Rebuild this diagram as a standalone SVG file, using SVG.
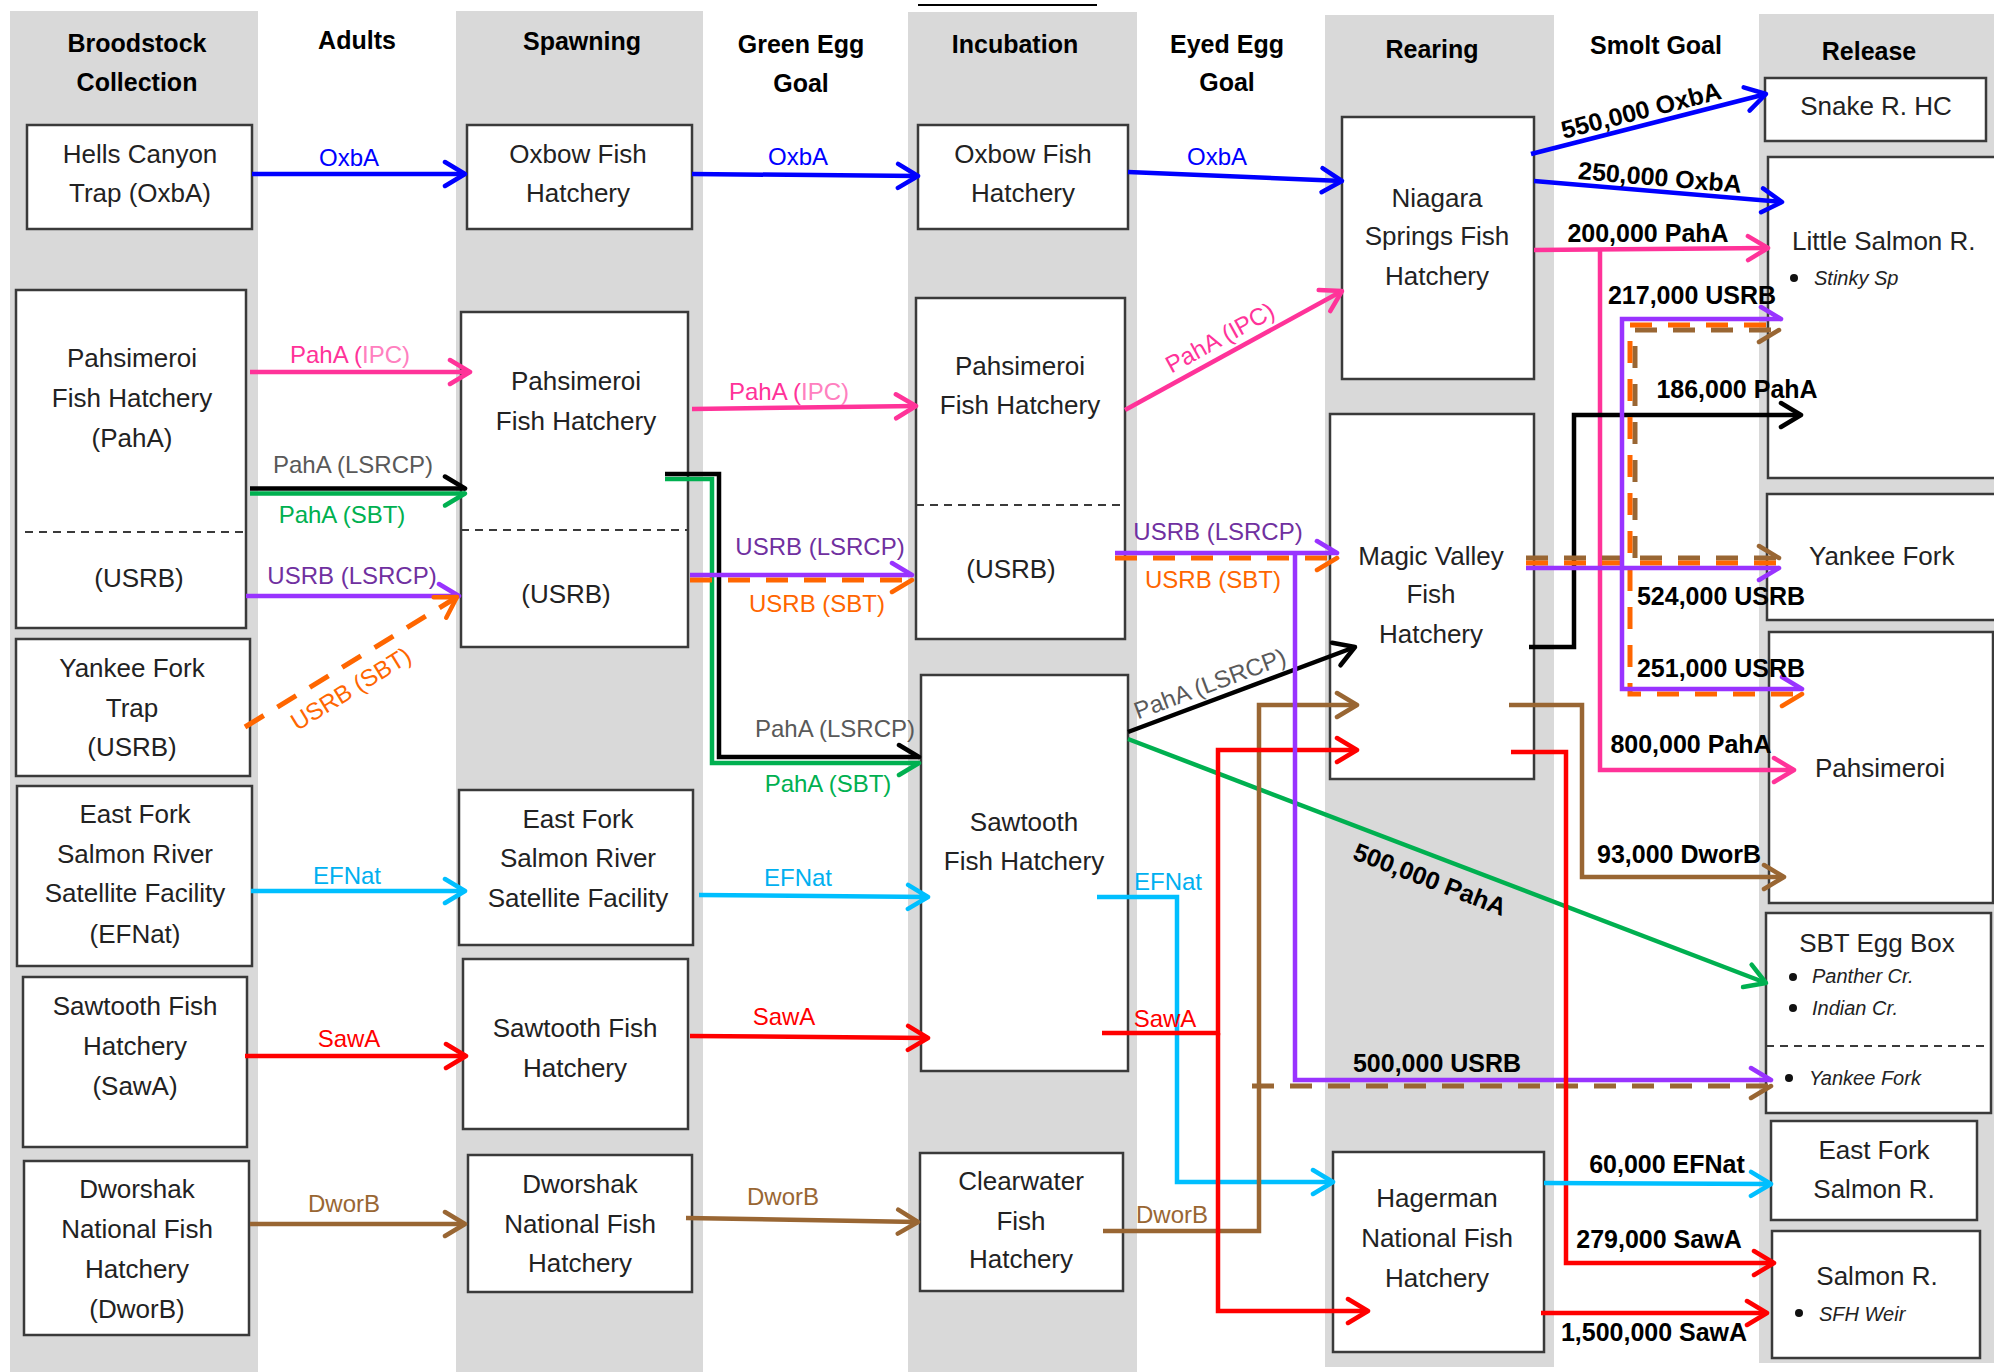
<svg xmlns="http://www.w3.org/2000/svg" width="1994" height="1372" viewBox="0 0 1994 1372">
<style>
.col{fill:#d9d9d9}
.box{fill:#fff;stroke:#3a3a3a;stroke-width:2.5}
.sep{fill:none;stroke:#3a3a3a;stroke-width:2;stroke-dasharray:8 6}
text{font-family:"Liberation Sans",Arial,sans-serif}
.hd{font-size:25px;font-weight:bold;fill:#000;text-anchor:middle}
.t{font-size:26px;fill:#222;text-anchor:middle}
.ts{font-size:26px;fill:#222}
.it{font-size:20px;font-style:italic;fill:#222}
.lb{font-size:24px;text-anchor:middle}
.nb{font-size:25px;font-weight:bold;fill:#000;text-anchor:middle}
.c{fill:none;stroke-width:4.5}
.d{stroke-dasharray:22 16;stroke-width:5}
.blue{stroke:#0000ff}.pink{stroke:#ff3399}.black{stroke:#000}.green{stroke:#00b050}
.purple{stroke:#9933ff}.orange{stroke:#ff6600}.cyan{stroke:#00bfff}.red{stroke:#ff0000}.brown{stroke:#996633}
.fblue{fill:#0000ff}.fpink{fill:#ff3399}.fgray{fill:#595959}.fgreen{fill:#00b050}.fpurple{fill:#7030a0}
.forange{fill:#ff6600}.fcyan{fill:#00b0f0}.fred{fill:#ff0000}.fbrown{fill:#996633}
.mk{fill:none;stroke-width:4.5;stroke-linecap:round;stroke-linejoin:round}
</style>
<defs>
<marker id="a-blue" markerUnits="userSpaceOnUse" viewBox="-26 -15 30 30" markerWidth="30" markerHeight="30" refX="0" refY="0" orient="auto"><path class="mk" stroke="#0000ff" d="M-20,-12 L0,0 L-20,12"/></marker>
<marker id="a-pink" markerUnits="userSpaceOnUse" viewBox="-26 -15 30 30" markerWidth="30" markerHeight="30" refX="0" refY="0" orient="auto"><path class="mk" stroke="#ff3399" d="M-20,-12 L0,0 L-20,12"/></marker>
<marker id="a-black" markerUnits="userSpaceOnUse" viewBox="-26 -15 30 30" markerWidth="30" markerHeight="30" refX="0" refY="0" orient="auto"><path class="mk" stroke="#000" d="M-20,-12 L0,0 L-20,12"/></marker>
<marker id="u-black" markerUnits="userSpaceOnUse" viewBox="-26 -15 30 30" markerWidth="30" markerHeight="30" refX="0" refY="0" orient="auto"><path class="mk" stroke="#000" d="M-20,-12 L0,0"/></marker>
<marker id="a-green" markerUnits="userSpaceOnUse" viewBox="-26 -15 30 30" markerWidth="30" markerHeight="30" refX="0" refY="0" orient="auto"><path class="mk" stroke="#00b050" d="M-20,-12 L0,0 L-20,12"/></marker>
<marker id="l-green" markerUnits="userSpaceOnUse" viewBox="-26 -15 30 30" markerWidth="30" markerHeight="30" refX="0" refY="0" orient="auto"><path class="mk" stroke="#00b050" d="M0,0 L-20,12"/></marker>
<marker id="u-purple" markerUnits="userSpaceOnUse" viewBox="-26 -15 30 30" markerWidth="30" markerHeight="30" refX="0" refY="0" orient="auto"><path class="mk" stroke="#9933ff" d="M-20,-12 L0,0"/></marker>
<marker id="l-purple" markerUnits="userSpaceOnUse" viewBox="-26 -15 30 30" markerWidth="30" markerHeight="30" refX="0" refY="0" orient="auto"><path class="mk" stroke="#9933ff" d="M0,0 L-20,12"/></marker>
<marker id="a-orange" markerUnits="userSpaceOnUse" viewBox="-26 -15 30 30" markerWidth="30" markerHeight="30" refX="0" refY="0" orient="auto"><path class="mk" stroke="#ff6600" d="M-20,-12 L0,0 L-20,12"/></marker>
<marker id="l-orange" markerUnits="userSpaceOnUse" viewBox="-26 -15 30 30" markerWidth="30" markerHeight="30" refX="0" refY="0" orient="auto"><path class="mk" stroke="#ff6600" d="M0,0 L-20,12"/></marker>
<marker id="a-brown" markerUnits="userSpaceOnUse" viewBox="-26 -15 30 30" markerWidth="30" markerHeight="30" refX="0" refY="0" orient="auto"><path class="mk" stroke="#996633" d="M-20,-12 L0,0 L-20,12"/></marker>
<marker id="u-brown" markerUnits="userSpaceOnUse" viewBox="-26 -15 30 30" markerWidth="30" markerHeight="30" refX="0" refY="0" orient="auto"><path class="mk" stroke="#996633" d="M-20,-12 L0,0"/></marker>
<marker id="l-brown" markerUnits="userSpaceOnUse" viewBox="-26 -15 30 30" markerWidth="30" markerHeight="30" refX="0" refY="0" orient="auto"><path class="mk" stroke="#996633" d="M0,0 L-20,12"/></marker>
<marker id="a-cyan" markerUnits="userSpaceOnUse" viewBox="-26 -15 30 30" markerWidth="30" markerHeight="30" refX="0" refY="0" orient="auto"><path class="mk" stroke="#00bfff" d="M-20,-12 L0,0 L-20,12"/></marker>
<marker id="a-red" markerUnits="userSpaceOnUse" viewBox="-26 -15 30 30" markerWidth="30" markerHeight="30" refX="0" refY="0" orient="auto"><path class="mk" stroke="#ff0000" d="M-20,-12 L0,0 L-20,12"/></marker>
</defs>
<rect width="1994" height="1372" fill="#fff"/>
<g id="columns">
<rect class="col" x="10" y="11" width="248" height="1361"/>
<rect class="col" x="456" y="11" width="247" height="1361"/>
<rect class="col" x="908" y="12" width="229" height="1360"/>
<rect class="col" x="1325" y="15" width="229" height="1352"/>
<rect class="col" x="1759" y="14" width="235" height="1349"/>
<line x1="918" y1="5" x2="1097" y2="5" stroke="#000" stroke-width="2"/>
</g>
<g id="headers">
<text class="hd" x="137" y="52">Broodstock</text>
<text class="hd" x="137" y="91">Collection</text>
<text class="hd" x="357" y="49">Adults</text>
<text class="hd" x="582" y="50">Spawning</text>
<text class="hd" x="801" y="53">Green Egg</text>
<text class="hd" x="801" y="92">Goal</text>
<text class="hd" x="1015" y="53">Incubation</text>
<text class="hd" x="1227" y="53">Eyed Egg</text>
<text class="hd" x="1227" y="91">Goal</text>
<text class="hd" x="1432" y="58">Rearing</text>
<text class="hd" x="1656" y="54">Smolt Goal</text>
<text class="hd" x="1869" y="60">Release</text>
</g>
<g id="bc-hells-canyon"><rect class="box" x="27" y="125" width="225" height="104"/>
<text class="t" x="140" y="163">Hells Canyon</text><text class="t" x="140" y="202">Trap (OxbA)</text></g>
<g id="bc-pahsimeroi"><rect class="box" x="16" y="290" width="230" height="338"/>
<line class="sep" x1="25" y1="532" x2="249" y2="532"/>
<text class="t" x="132" y="367">Pahsimeroi</text><text class="t" x="132" y="407">Fish Hatchery</text><text class="t" x="132" y="447">(PahA)</text>
<text class="t" x="139" y="587">(USRB)</text></g>
<g id="bc-yankee-fork"><rect class="box" x="16" y="639" width="234" height="137"/>
<text class="t" x="132" y="677">Yankee Fork</text><text class="t" x="132" y="717">Trap</text><text class="t" x="132" y="756">(USRB)</text></g>
<g id="bc-east-fork"><rect class="box" x="17" y="786" width="235" height="180"/>
<text class="t" x="135" y="823">East Fork</text><text class="t" x="135" y="863">Salmon River</text><text class="t" x="135" y="902">Satellite Facility</text><text class="t" x="135" y="943">(EFNat)</text></g>
<g id="bc-sawtooth"><rect class="box" x="23" y="977" width="224" height="170"/>
<text class="t" x="135" y="1015">Sawtooth Fish</text><text class="t" x="135" y="1055">Hatchery</text><text class="t" x="135" y="1095">(SawA)</text></g>
<g id="bc-dworshak"><rect class="box" x="24" y="1161" width="225" height="174"/>
<text class="t" x="137" y="1198">Dworshak</text><text class="t" x="137" y="1238">National Fish</text><text class="t" x="137" y="1278">Hatchery</text><text class="t" x="137" y="1318">(DworB)</text></g>
<g id="sp-oxbow"><rect class="box" x="467" y="125" width="225" height="104"/>
<text class="t" x="578" y="163">Oxbow Fish</text><text class="t" x="578" y="202">Hatchery</text></g>
<g id="sp-pahsimeroi"><rect class="box" x="461" y="312" width="227" height="335"/>
<line class="sep" x1="461" y1="530" x2="688" y2="530"/>
<text class="t" x="576" y="390">Pahsimeroi</text><text class="t" x="576" y="430">Fish Hatchery</text>
<text class="t" x="566" y="603">(USRB)</text></g>
<g id="sp-east-fork"><rect class="box" x="459" y="790" width="234" height="155"/>
<text class="t" x="578" y="828">East Fork</text><text class="t" x="578" y="867">Salmon River</text><text class="t" x="578" y="907">Satellite Facility</text></g>
<g id="sp-sawtooth"><rect class="box" x="463" y="959" width="225" height="170"/>
<text class="t" x="575" y="1037">Sawtooth Fish</text><text class="t" x="575" y="1077">Hatchery</text></g>
<g id="sp-dworshak"><rect class="box" x="468" y="1155" width="224" height="137"/>
<text class="t" x="580" y="1193">Dworshak</text><text class="t" x="580" y="1233">National Fish</text><text class="t" x="580" y="1272">Hatchery</text></g>
<g id="in-oxbow"><rect class="box" x="918" y="125" width="210" height="104"/>
<text class="t" x="1023" y="163">Oxbow Fish</text><text class="t" x="1023" y="202">Hatchery</text></g>
<g id="in-pahsimeroi"><rect class="box" x="916" y="298" width="209" height="341"/>
<line class="sep" x1="916" y1="505" x2="1125" y2="505"/>
<text class="t" x="1020" y="375">Pahsimeroi</text><text class="t" x="1020" y="414">Fish Hatchery</text>
<text class="t" x="1011" y="578">(USRB)</text></g>
<g id="in-sawtooth"><rect class="box" x="921" y="675" width="207" height="396"/>
<text class="t" x="1024" y="831">Sawtooth</text><text class="t" x="1024" y="870">Fish Hatchery</text></g>
<g id="in-clearwater"><rect class="box" x="920" y="1153" width="203" height="138"/>
<text class="t" x="1021" y="1190">Clearwater</text><text class="t" x="1021" y="1230">Fish</text><text class="t" x="1021" y="1268">Hatchery</text></g>
<g id="re-niagara"><rect class="box" x="1342" y="117" width="192" height="262"/>
<text class="t" x="1437" y="207">Niagara</text><text class="t" x="1437" y="245">Springs Fish</text><text class="t" x="1437" y="285">Hatchery</text></g>
<g id="re-magic-valley"><rect class="box" x="1330" y="414" width="204" height="365"/>
<text class="t" x="1431" y="565">Magic Valley</text><text class="t" x="1431" y="603">Fish</text><text class="t" x="1431" y="643">Hatchery</text></g>
<g id="re-hagerman"><rect class="box" x="1333" y="1152" width="211" height="200"/>
<text class="t" x="1437" y="1207">Hagerman</text><text class="t" x="1437" y="1247">National Fish</text><text class="t" x="1437" y="1287">Hatchery</text></g>
<g id="rl-snake"><rect class="box" x="1765" y="78" width="221" height="63"/>
<text class="t" x="1876" y="115">Snake R. HC</text></g>
<g id="rl-little-salmon"><rect class="box" x="1768" y="157" width="240" height="321"/>
<text class="ts" x="1792" y="250">Little Salmon R.</text>
<circle cx="1794" cy="278" r="4" fill="#111"/><text class="it" x="1814" y="285">Stinky Sp</text></g>
<g id="rl-yankee-fork"><rect class="box" x="1767" y="494" width="240" height="126"/>
<text class="ts" x="1809" y="565">Yankee Fork</text></g>
<g id="rl-pahsimeroi"><rect class="box" x="1769" y="632" width="224" height="271"/>
<text class="ts" x="1815" y="777">Pahsimeroi</text></g>
<g id="rl-sbt-egg-box"><rect class="box" x="1766" y="913" width="225" height="200"/>
<line class="sep" x1="1766" y1="1046" x2="1991" y2="1046"/>
<text class="t" x="1877" y="952">SBT Egg Box</text>
<circle cx="1793" cy="977" r="4" fill="#111"/><text class="it" x="1812" y="983">Panther Cr.</text>
<circle cx="1793" cy="1008" r="4" fill="#111"/><text class="it" x="1812" y="1015">Indian Cr.</text>
<circle cx="1789" cy="1078" r="4" fill="#111"/><text class="it" x="1809" y="1085">Yankee Fork</text></g>
<g id="rl-east-fork"><rect class="box" x="1771" y="1121" width="206" height="99"/>
<text class="t" x="1874" y="1159">East Fork</text><text class="t" x="1874" y="1198">Salmon R.</text></g>
<g id="rl-salmon"><rect class="box" x="1772" y="1231" width="208" height="127"/>
<text class="t" x="1877" y="1285">Salmon R.</text>
<circle cx="1799" cy="1313" r="4" fill="#111"/><text class="it" x="1819" y="1321">SFH Weir</text></g>
<g id="connectors">
<path class="c blue" d="M252,174 H465" marker-end="url(#a-blue)"/>
<path class="c pink" d="M250,372 H470" marker-end="url(#a-pink)"/>
<path class="c green" d="M250,493.5 H465" marker-end="url(#l-green)"/>
<path class="c black" d="M250,488.5 H465" marker-end="url(#u-black)"/>
<path class="c purple" d="M246,596 H459" marker-end="url(#u-purple)"/>
<path class="c d orange" d="M245,727 L457,597" marker-end="url(#a-orange)"/>
<path class="c cyan" d="M251,891 H465" marker-end="url(#a-cyan)"/>
<path class="c red" d="M245,1056 H466" marker-end="url(#a-red)"/>
<path class="c brown" d="M250,1224 H465" marker-end="url(#a-brown)"/>
<path class="c blue" d="M692,174 L918,176" marker-end="url(#a-blue)"/>
<path class="c pink" d="M692,409 L916,406" marker-end="url(#a-pink)"/>
<path class="c green" d="M665,479 H712 V763 H919" marker-end="url(#l-green)"/>
<path class="c black" d="M665,474 H719 V757 H919" marker-end="url(#u-black)"/>
<path class="c d orange" d="M690,580 H912" marker-end="url(#l-orange)"/>
<path class="c purple" d="M690,575 H912" marker-end="url(#u-purple)"/>
<path class="c cyan" d="M699,895 L928,897" marker-end="url(#a-cyan)"/>
<path class="c red" d="M690,1036 L928,1038" marker-end="url(#a-red)"/>
<path class="c brown" d="M686,1218 L918,1222" marker-end="url(#a-brown)"/>
<path class="c blue" d="M1128,172 L1342,181" marker-end="url(#a-blue)"/>
<path class="c pink" d="M1125,410 L1342,291" marker-end="url(#a-pink)"/>
<path class="c d orange" d="M1115,558 H1337" marker-end="url(#l-orange)"/>
<path class="c purple" d="M1115,553 H1337" marker-end="url(#u-purple)"/>
<path class="c black" d="M1128,732 L1355,647" marker-end="url(#a-black)"/>
<path class="c green" d="M1128,739 L1766,983" marker-end="url(#a-green)"/>
<path class="c cyan" d="M1097,897 H1177 V1182 H1333" marker-end="url(#a-cyan)"/>
<path class="c brown" d="M1103,1231 H1259 V705 H1357" marker-end="url(#a-brown)"/>
<path class="c red" d="M1102,1033 H1218 V750 H1357" marker-end="url(#a-red)"/>
<path class="c red" d="M1218,1033 V1311 H1368" marker-end="url(#a-red)"/>
<path class="c d brown" d="M1252,1086 H1771" marker-end="url(#l-brown)"/>
<path class="c purple" d="M1295,553 V1080 H1771" marker-end="url(#u-purple)"/>
<path class="c blue" d="M1531,154 L1766,94" marker-end="url(#a-blue)"/>
<path class="c blue" d="M1534,181 L1782,202" marker-end="url(#a-blue)"/>
<path class="c pink" d="M1534,250 L1768,248" marker-end="url(#a-pink)"/>
<path class="c pink" d="M1600,250 V770 H1794" marker-end="url(#a-pink)"/>
<path class="c black" d="M1529,647 H1574 V415 H1801" marker-end="url(#a-black)"/>
<path class="c brown" d="M1509,705 H1582 V877 H1784" marker-end="url(#a-brown)"/>
<path class="c red" d="M1511,752 H1566 V1263 H1774" marker-end="url(#a-red)"/>
<path class="c cyan" d="M1544,1183 L1771,1184" marker-end="url(#a-cyan)"/>
<path class="c red" d="M1541,1313 H1767" marker-end="url(#a-red)"/>
<path class="c d brown" d="M1526,558 H1779" marker-end="url(#u-brown)"/>
<path class="c d brown" d="M1635,558 V330 H1779" marker-end="url(#l-brown)"/>
<path class="c d orange" d="M1526,563 H1779"/>
<path class="c d orange" d="M1766,325 H1630 V694 H1802" marker-end="url(#l-orange)"/>
<path class="c purple" d="M1526,568 H1779" marker-end="url(#l-purple)"/>
<path class="c purple" d="M1622,568 V319 H1781" marker-end="url(#u-purple)"/>
<path class="c purple" d="M1622,568 V689 H1802" marker-end="url(#u-purple)"/>
</g>
<g id="labels">
<text class="lb fblue" x="349" y="166">OxbA</text>
<text class="lb fpink" x="350" y="363">PahA (<tspan fill="#ff80bf">IPC)</tspan></text>
<text class="lb fgray" x="353" y="473">PahA (LSRCP)</text>
<text class="lb fgreen" x="342" y="523">PahA (SBT)</text>
<text class="lb fpurple" x="352" y="584">USRB (LSRCP)</text>
<text class="lb forange" x="0" y="8" transform="translate(351,689) rotate(-31.5)">USRB (SBT)</text>
<text class="lb fcyan" x="347" y="884">EFNat</text>
<text class="lb fred" x="349" y="1047">SawA</text>
<text class="lb fbrown" x="344" y="1212">DworB</text>
<text class="lb fblue" x="798" y="165">OxbA</text>
<text class="lb fpink" x="789" y="400">PahA (<tspan fill="#ff80bf">IPC)</tspan></text>
<text class="lb fpurple" x="820" y="555">USRB (LSRCP)</text>
<text class="lb forange" x="817" y="612">USRB (SBT)</text>
<text class="lb fgray" x="835" y="737">PahA (LSRCP)</text>
<text class="lb fgreen" x="828" y="792">PahA (SBT)</text>
<text class="lb fcyan" x="798" y="886">EFNat</text>
<text class="lb fred" x="784" y="1025">SawA</text>
<text class="lb fbrown" x="783" y="1205">DworB</text>
<text class="lb fblue" x="1217" y="165">OxbA</text>
<text class="lb fpink" x="0" y="8" transform="translate(1220,338) rotate(-28.7)">PahA (IPC)</text>
<text class="lb fpurple" x="1218" y="540">USRB (LSRCP)</text>
<text class="lb forange" x="1213" y="588">USRB (SBT)</text>
<text class="lb fgray" x="0" y="8" transform="translate(1210,684) rotate(-20.5)">PahA (LSRCP)</text>
<text class="lb fcyan" x="1168" y="890">EFNat</text>
<text class="lb fred" x="1165" y="1027">SawA</text>
<text class="lb fbrown" x="1172" y="1223">DworB</text>
<text class="nb" x="0" y="9" transform="translate(1641,110) rotate(-14.3)">550,000 OxbA</text>
<text class="nb" x="0" y="9" transform="translate(1660,177) rotate(4.8)">250,000 OxbA</text>
<text class="nb" x="1648" y="242">200,000 PahA</text>
<text class="nb" x="1692" y="304">217,000 USRB</text>
<text class="nb" x="1737" y="398">186,000 PahA</text>
<text class="nb" x="1721" y="605">524,000 USRB</text>
<text class="nb" x="1721" y="677">251,000 USRB</text>
<text class="nb" x="1691" y="753">800,000 PahA</text>
<text class="nb" x="1679" y="863">93,000 DworB</text>
<text class="nb" x="0" y="9" transform="translate(1430,879) rotate(20.9)">500,000 PahA</text>
<text class="nb" x="1437" y="1072">500,000 USRB</text>
<text class="nb" x="1667" y="1173">60,000 EFNat</text>
<text class="nb" x="1659" y="1248">279,000 SawA</text>
<text class="nb" x="1654" y="1341">1,500,000 SawA</text>
</g>
</svg>
